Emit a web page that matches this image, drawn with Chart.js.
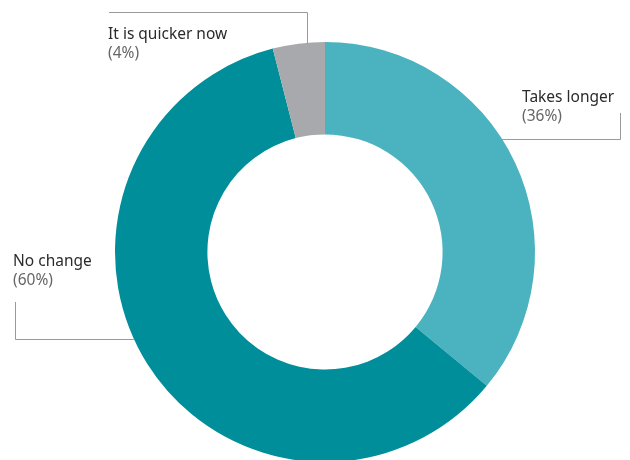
<!DOCTYPE html>
<html>
<head>
<meta charset="utf-8">
<script src="https://cdn.jsdelivr.net/npm/chart.js@4/dist/chart.umd.min.js"></script>
<style>
  html, body { margin: 0; padding: 0; background: #fff; overflow: hidden; }
  #wrap { width: 630px; height: 504px; }
</style>
</head>
<body>
<div id="wrap"><canvas id="grafico"></canvas></div>
<script>
const categorias = ["Takes longer", "No change", "It is quicker now"];
const valores = [36, 60, 4];
const rotulos = ["(36%)", "(60%)", "(4%)"];
const cores = ["#4bb2bf", "#008e9b", "#a8a9ac"];

// posicao dos rotulos e das linhas-guia (em px)
const anotacoes = [
  { x: 522, y: 102, linha: "h", ly: 139, lx: 620, topo: 113 },
  { x: 13, y: 266, linha: "h", ly: 339, lx: 15, topo: 302 },
  { x: 108, y: 39, linha: "v", lx: 307, ly: 12, inicio: 109 }
];

const pluginRotulos = {
  id: "rotulos",
  afterDraw(chart) {
    const ctx = chart.ctx;
    const arco = chart.getDatasetMeta(0).data[0];
    const cx = arco.x, cy = arco.y, r = arco.outerRadius;
    ctx.save();
    ctx.strokeStyle = "#9a9a9a";
    ctx.lineWidth = 1;
    anotacoes.forEach((a, i) => {
      ctx.beginPath();
      if (a.linha === "h") {
        const dx = Math.sqrt(r * r - (a.ly - cy) * (a.ly - cy));
        const fim = a.lx > cx ? cx + dx : cx - dx;
        ctx.moveTo(a.lx + 0.5, a.topo);
        ctx.lineTo(a.lx + 0.5, a.ly + 0.5);
        ctx.lineTo(fim, a.ly + 0.5);
      } else {
        const dy = Math.sqrt(r * r - (a.lx - cx) * (a.lx - cx));
        ctx.moveTo(a.inicio, a.ly + 0.5);
        ctx.lineTo(a.lx + 0.5, a.ly + 0.5);
        ctx.lineTo(a.lx + 0.5, cy - dy + 1);
      }
      ctx.stroke();

      ctx.font = "15.5px 'Noto Sans', sans-serif";
      ctx.textBaseline = "alphabetic";
      ctx.textAlign = "left";
      ctx.fillStyle = "#2b2b2b";
      ctx.fillText(categorias[i], a.x, a.y);
      ctx.fillStyle = "#666666";
      ctx.fillText(rotulos[i], a.x, a.y + 19);
    });
    ctx.restore();
  }
};

new Chart(document.getElementById("grafico"), {
  type: "doughnut",
  data: {
    labels: categorias,
    datasets: [{
      data: valores,
      backgroundColor: cores,
      borderWidth: 0
    }]
  },
  options: {
    responsive: true,
    maintainAspectRatio: false,
    animation: false,
    cutout: "56%",
    layout: { padding: { top: 42, bottom: 42, left: 115, right: 95 } },
    plugins: {
      legend: { display: false },
      tooltip: { enabled: false }
    },
    events: []
  },
  plugins: [pluginRotulos]
});
</script>
</body>
</html>
